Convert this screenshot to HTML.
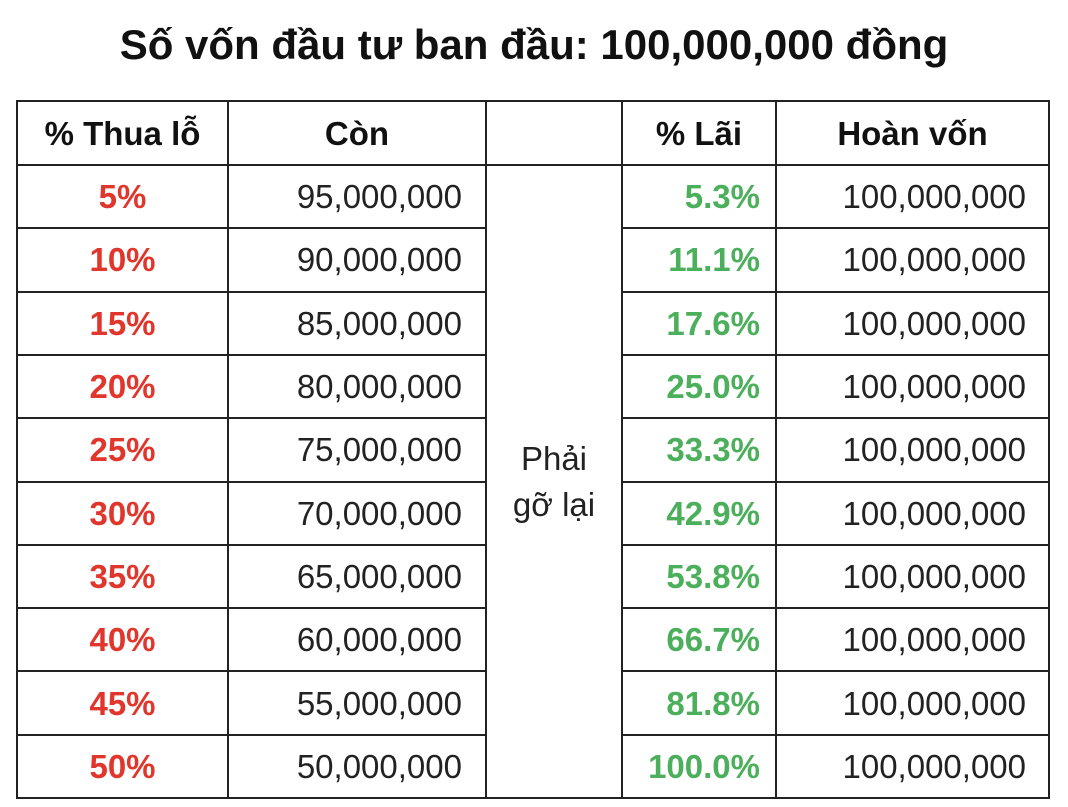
<!DOCTYPE html>
<html><head><meta charset="utf-8">
<style>
body{margin:0;width:1068px;height:807px;background:#fff;position:relative;overflow:hidden;font-family:"Liberation Sans",Arial,sans-serif;}
#title{position:absolute;left:0;width:1068px;top:20px;text-align:center;font-weight:bold;font-size:42px;color:#111;line-height:50px;}
.cell{position:absolute;box-sizing:border-box;font-size:33px;line-height:33px;display:flex;align-items:center;color:#222;}
.h{font-weight:bold;justify-content:center;color:#111;}
.line{position:absolute;background:#222;}
</style></head><body>
<div id="title">Số vốn đầu tư ban đầu: 100,000,000 đồng</div>
<div id="tbl"></div>
<script>
const losses=["5%","10%","15%","20%","25%","30%","35%","40%","45%","50%"];
const remaining=["95,000,000","90,000,000","85,000,000","80,000,000","75,000,000","70,000,000","65,000,000","60,000,000","55,000,000","50,000,000"];
const gains=["5.3%","11.1%","17.6%","25.0%","33.3%","42.9%","53.8%","66.7%","81.8%","100.0%"];
const recovered=["100,000,000","100,000,000","100,000,000","100,000,000","100,000,000","100,000,000","100,000,000","100,000,000","100,000,000","100,000,000"];
const headers=["% Thua lỗ","Còn","","% Lãi","Hoàn vốn"];
const cols=[17,228,486,622,776,1049];
const tableTop=101, hh=64, rh=63.3;
const T=document.getElementById('tbl');
function cell(x1,x2,y1,y2,txt,cls,style){
  const d=document.createElement('div');
  d.className='cell '+(cls||'');
  d.style.left=x1+'px';d.style.width=(x2-x1)+'px';d.style.top=y1+'px';d.style.height=(y2-y1)+'px';
  if(style)Object.assign(d.style,style);
  d.textContent=txt;T.appendChild(d);return d;
}
headers.forEach((h,i)=>{const c=cell(cols[i],cols[i+1],tableTop,tableTop+hh,h,'h');

});
for(let r=0;r<losses.length;r++){
  const y1=tableTop+hh+r*rh,y2=y1+rh;
  let c=cell(cols[0],cols[1],y1,y2,losses[r],'',{justifyContent:'center',fontWeight:'bold',color:'#e0362c'});
  
  
  c=cell(cols[1],cols[2],y1,y2,remaining[r],'',{justifyContent:'flex-end',paddingRight:'24px'});
  
  
  c=cell(cols[3],cols[4],y1,y2,gains[r],'',{justifyContent:'flex-end',paddingRight:'16px',fontWeight:'bold',color:'#4caf5c'});
  
  
  c=cell(cols[4],cols[5],y1,y2,recovered[r],'',{justifyContent:'flex-end',paddingRight:'23px'});
  
  
}
const bottom=tableTop+hh+losses.length*rh;
const m=cell(cols[2],cols[3],tableTop+hh,bottom,'','',{justifyContent:'center',textAlign:'center',lineHeight:'46px'});
m.innerHTML='Phải<br>gỡ lại';


function line(x,y,w,h){const l=document.createElement('div');l.className='line';
l.style.left=x+'px';l.style.top=y+'px';l.style.width=w+'px';l.style.height=h+'px';


T.appendChild(l);}
cols.forEach(x=>line(x-1,tableTop-1,2,bottom-tableTop+2));
line(cols[0]-1,tableTop-1,cols[5]-cols[0]+2,2);
for(let r=0;r<=losses.length;r++){
  const y=tableTop+hh+r*rh;
  if(r===losses.length){line(cols[0]-1,y-1,cols[5]-cols[0]+2,2);}
  else{line(cols[0]-1,y-1,cols[2]-cols[0]+1,2);line(cols[3]-1,y-1,cols[5]-cols[3]+2,2);}
}
line(cols[2]-1,tableTop+hh-1,cols[3]-cols[2]+1,2);
</script>
</body></html>
